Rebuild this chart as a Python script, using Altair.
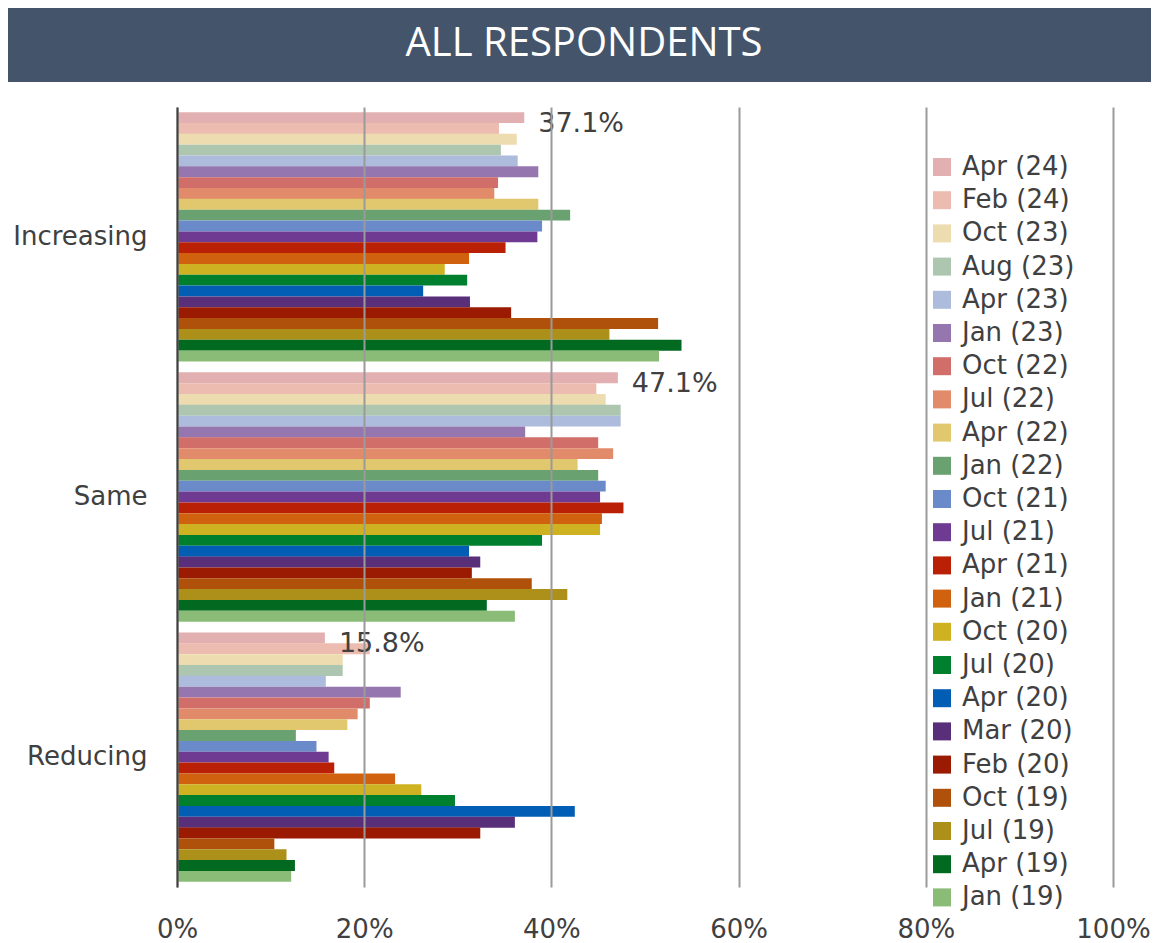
import altair as alt
import pandas as pd

categories = ["Increasing", "Same", "Reducing"]
series = ["Apr (24)", "Feb (24)", "Oct (23)", "Aug (23)", "Apr (23)", "Jan (23)",
          "Oct (22)", "Jul (22)", "Apr (22)", "Jan (22)", "Oct (21)", "Jul (21)",
          "Apr (21)", "Jan (21)", "Oct (20)", "Jul (20)", "Apr (20)", "Mar (20)",
          "Feb (20)", "Oct (19)", "Jul (19)", "Apr (19)", "Jan (19)"]
colors = ["#E2B0B0", "#EDBCB0", "#EDDCB0", "#ADC6B0", "#ADBCDC", "#9676AF",
          "#D26E6A", "#E28B6A", "#E1C76E", "#69A270", "#6A8AC9", "#6F3A91",
          "#BA2005", "#D0620F", "#CEB221", "#007F2E", "#025EB4", "#5A2F79",
          "#9A1A02", "#AF510A", "#AD901A", "#016A20", "#8ABC78"]
increasing = [37.1, 34.4, 36.3, 34.6, 36.4, 38.6, 34.3, 33.9, 38.6, 42.0, 39.0, 38.5,
              35.1, 31.2, 28.6, 31.0, 26.3, 31.3, 35.7, 51.4, 46.2, 53.9, 51.5]
same = [47.1, 44.8, 45.8, 47.4, 47.4, 37.2, 45.0, 46.6, 42.8, 45.0, 45.8, 45.2,
        47.7, 45.4, 45.2, 39.0, 31.2, 32.4, 31.5, 37.9, 41.7, 33.1, 36.1]
reducing = [15.8, 20.6, 17.7, 17.7, 15.9, 23.9, 20.6, 19.3, 18.2, 12.7, 14.9, 16.2,
            16.8, 23.3, 26.1, 29.7, 42.5, 36.1, 32.4, 10.4, 11.7, 12.6, 12.2]
label_series = "Apr (24)"
x_ticks = [0, 20, 40, 60, 80, 100]
title_text = "ALL RESPONDENTS"

rows = []
for cat, vals in zip(categories, [increasing, same, reducing]):
    for s, v in zip(series, vals):
        rows.append({"category": cat, "series": s, "value": v})
df = pd.DataFrame(rows)

FONT = "DejaVu Sans"
TXT = "#404040"

y_enc = alt.Y("category:N", sort=categories,
              scale=alt.Scale(domain=categories, paddingInner=0.042, paddingOuter=0.02),
              axis=alt.Axis(title=None, labelFontSize=26, labelColor=TXT, labelFont=FONT,
                            ticks=False, domain=True, domainColor="#404040", domainWidth=2,
                            labelPadding=30, grid=False, zindex=2))
yoff_enc = alt.YOffset("series:N", sort=series,
                       scale=alt.Scale(domain=series, paddingInner=0, paddingOuter=0))
x_enc = alt.X("value:Q", scale=alt.Scale(domain=[0, 100]),
              axis=alt.Axis(values=x_ticks, labelExpr="datum.value + '%'", title=None,
                            grid=True, gridColor="#9a9a9a", gridWidth=2, domain=False,
                            ticks=False, labelFontSize=26, labelFont=FONT, labelColor=TXT,
                            labelPadding=29, labelFlush=False, labelAlign="center",
                            zindex=1))

bars = alt.Chart(df).mark_bar(size=10.9).encode(
    x=x_enc,
    y=y_enc,
    yOffset=yoff_enc,
    color=alt.Color("series:N", sort=series,
                    scale=alt.Scale(domain=series, range=colors),
                    legend=alt.Legend(title=None, orient="none", legendX=752, legendY=47,
                                      symbolType="square", symbolSize=324,
                                      symbolStrokeWidth=0, labelFontSize=26,
                                      labelFont=FONT, labelColor=TXT, rowPadding=7.2,
                                      labelOffset=7, padding=0, symbolLimit=0)),
)

labels = alt.Chart(df).transform_filter(
    alt.datum.series == label_series
).transform_calculate(
    lab="format(datum.value, '.1f') + '%'"
).mark_text(align="left", baseline="middle", dx=14, dy=6, fontSize=27,
            font=FONT, color=TXT).encode(
    x=alt.X("value:Q"),
    y=alt.Y("category:N", sort=categories),
    yOffset=alt.YOffset("series:N", sort=series),
    text="lab:N",
)

banner_df = pd.DataFrame({"t": [title_text]})
banner = alt.Chart(banner_df).mark_rect(color="#44546A").encode(
    x=alt.value(-169), x2=alt.value(974), y=alt.value(-99), y2=alt.value(-25)
)
banner_text = alt.Chart(banner_df).mark_text(
    fontSize=40, font="Open Sans", color="white", align="center", baseline="middle"
).encode(x=alt.value(407), y=alt.value(-63), text="t:N")

chart = alt.layer(banner, banner_text, bars, labels).properties(
    width=936, height=780, padding=0, background="white"
).configure_view(stroke=None, strokeWidth=0)

chart.save("out.html", embed_options={"renderer": "svg", "actions": False})
